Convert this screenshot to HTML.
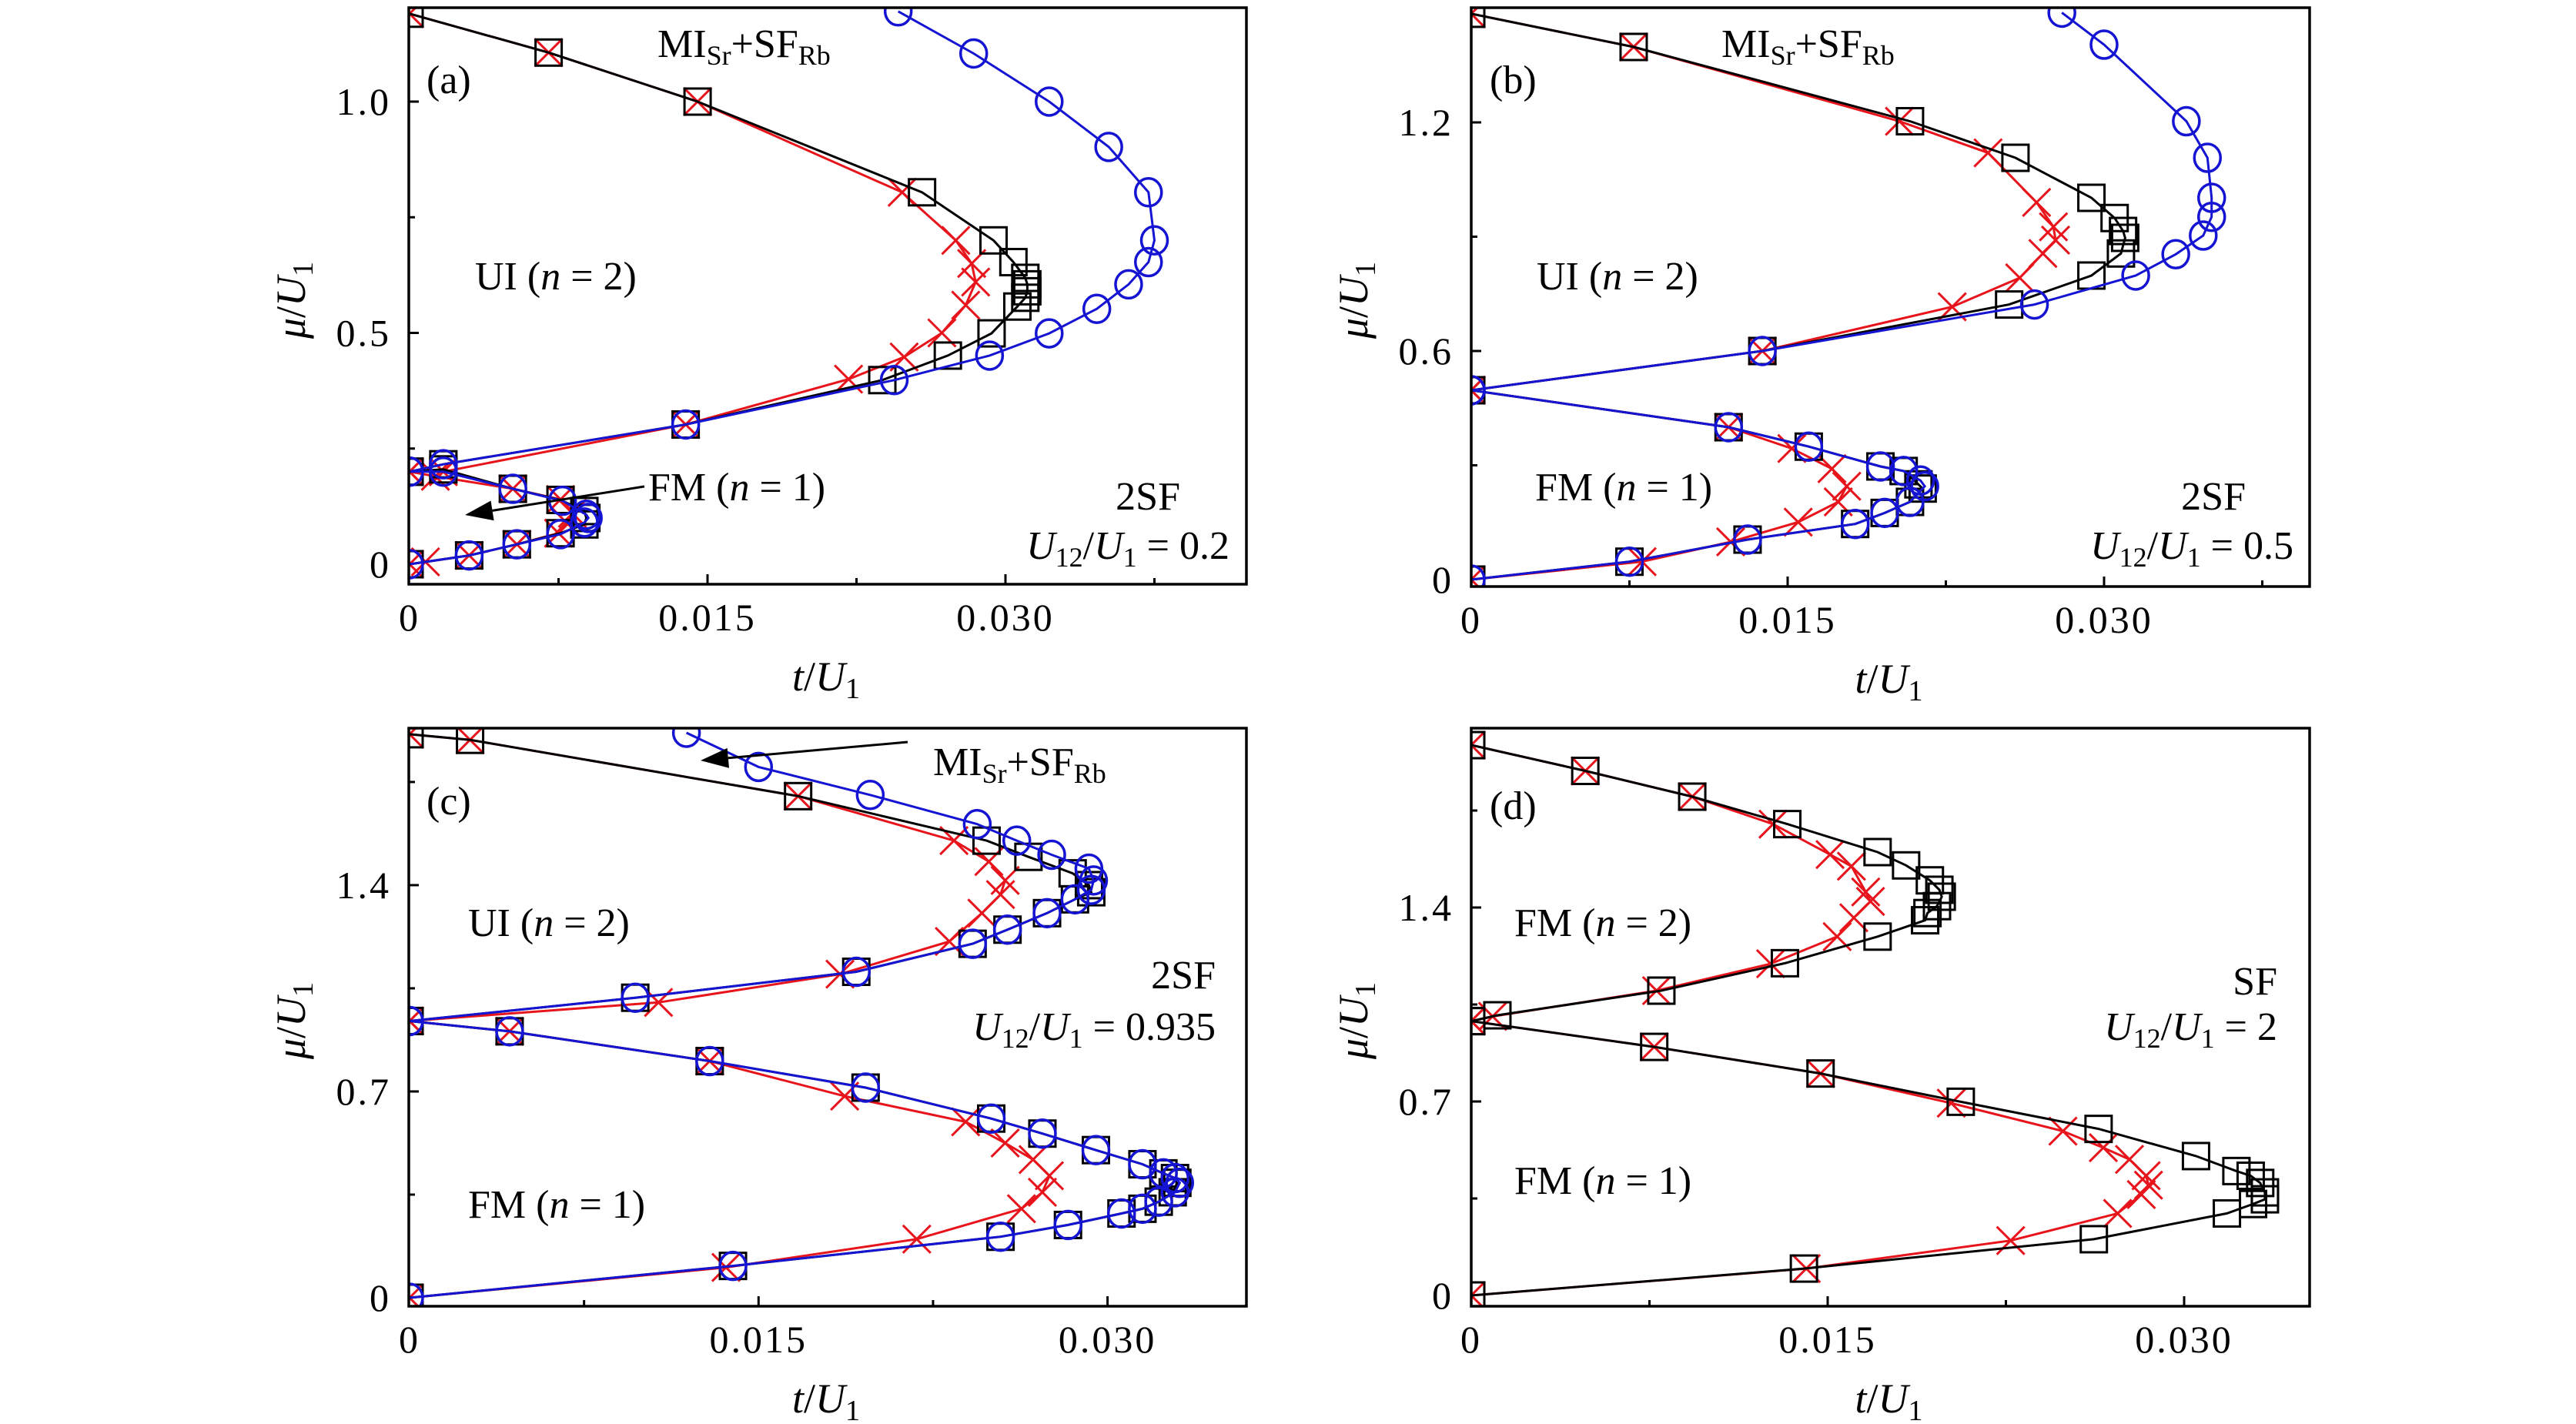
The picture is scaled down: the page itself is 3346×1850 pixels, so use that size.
<!DOCTYPE html>
<html><head><meta charset="utf-8">
<style>
html,body{margin:0;padding:0;background:#fff;}
svg{display:block;}
text{font-family:"Liberation Serif",serif;fill:#000;}
</style></head>
<body>
<svg id="chart" xmlns="http://www.w3.org/2000/svg" width="3346" height="1850" viewBox="0 0 3346 1850">
<rect x="0" y="0" width="3346" height="1850" fill="#fff"/>
</svg>
<script>
// ---------- data (t/U1, mu/U1) ----------
const aBlackUp=[[0,1.19],[0.0070,1.106],[0.0145,1.0],[0.0258,0.804],[0.0294,0.70],[0.0304,0.653],[0.0310,0.619],[0.0311,0.605],[0.0311,0.59],[0.0310,0.576],[0.0306,0.557],[0.0293,0.499],[0.0271,0.451],[0.0238,0.398],[0.0139,0.302],[0.0017,0.216],[0,0.2]];
const aBlackLow=[[0,0.2],[0.0017,0.205],[0.0052,0.163],[0.0076,0.139],[0.0088,0.115],[0.0089,0.10],[0.0088,0.086],[0.0076,0.067],[0.0054,0.043],[0.0030,0.019],[0,0]];
const aBlueUp=[[0.0246,1.195],[0.0284,1.104],[0.0322,1.0],[0.0352,0.902],[0.0372,0.804],[0.0375,0.70],[0.0372,0.653],[0.0362,0.605],[0.0346,0.552],[0.0322,0.499],[0.0292,0.451],[0.0244,0.398],[0.0139,0.302],[0.0017,0.216],[0,0.2]];
const aBlueLow=[[0,0.2],[0.0017,0.2],[0.0052,0.163],[0.0077,0.137],[0.0089,0.107],[0.0090,0.10],[0.0088,0.09],[0.0076,0.065],[0.0054,0.043],[0.0030,0.019],[0,0]];
const aRedUp=[[0,1.19],[0.0070,1.106],[0.0145,1.0],[0.0248,0.804],[0.0275,0.70],[0.0283,0.65],[0.0285,0.61],[0.0280,0.56],[0.0268,0.50],[0.0249,0.448],[0.0221,0.40],[0.0139,0.302],[0.0017,0.2],[0,0.2]];
const aRedLow=[[0,0.2],[0.0013,0.19],[0.0052,0.163],[0.0076,0.14],[0.0082,0.11],[0.0079,0.09],[0.0075,0.067],[0.0054,0.043],[0.0030,0.019],[0.0008,0.005],[0,0]];

const bBlackUp=[[0,1.485],[0.0077,1.398],[0.0208,1.203],[0.0258,1.107],[0.0294,1.002],[0.0305,0.949],[0.0309,0.915],[0.0310,0.897],[0.0308,0.856],[0.0294,0.798],[0.0255,0.722],[0.0138,0.60],[0,0.497]];
const bBlueUp=[[0.0280,1.488],[0.0300,1.404],[0.0339,1.203],[0.0349,1.107],[0.0351,1.002],[0.0351,0.952],[0.0347,0.903],[0.0334,0.854],[0.0315,0.798],[0.0267,0.722],[0.0138,0.60],[0,0.497]];
const bRedUp=[[0,1.485],[0.0077,1.398],[0.0203,1.203],[0.0245,1.12],[0.0268,0.99],[0.0276,0.926],[0.0277,0.891],[0.0271,0.856],[0.0260,0.792],[0.0228,0.716],[0.0138,0.60],[0,0.497]];
const bBlackLow=[[0,0.497],[0.0122,0.40],[0.0160,0.349],[0.0194,0.297],[0.0205,0.285],[0.0212,0.25],[0.0214,0.239],[0.0208,0.204],[0.0196,0.175],[0.0182,0.146],[0.0131,0.105],[0.0075,0.047],[0,0]];
const bBlueLow=[[0,0.497],[0.0122,0.40],[0.0160,0.349],[0.0194,0.297],[0.0205,0.285],[0.0213,0.26],[0.0215,0.245],[0.0208,0.204],[0.0196,0.175],[0.0182,0.146],[0.0131,0.105],[0.0075,0.047],[0,0]];
const bRedLow=[[0,0.497],[0.0122,0.40],[0.0152,0.344],[0.0171,0.291],[0.0178,0.245],[0.0174,0.204],[0.0155,0.151],[0.0123,0.099],[0.0081,0.047],[0,0]];

const cBlackUp=[[0,1.912],[0.0026,1.893],[0.0167,1.702],[0.0248,1.551],[0.0266,1.496],[0.0285,1.44],[0.0292,1.40],[0.0293,1.376],[0.0286,1.352],[0.0274,1.305],[0.0257,1.249],[0.0242,1.201],[0.0192,1.106],[0.0097,1.018],[0,0.939]];
const cBlueUp=[[0.0119,1.917],[0.0150,1.801],[0.0198,1.706],[0.0244,1.607],[0.0261,1.551],[0.0276,1.503],[0.0292,1.456],[0.0294,1.416],[0.0293,1.384],[0.0286,1.352],[0.0274,1.305],[0.0257,1.249],[0.0242,1.201],[0.0192,1.106],[0.0097,1.018],[0,0.939]];
const cRedUp=[[0,1.912],[0.0026,1.893],[0.0167,1.702],[0.0234,1.551],[0.0249,1.48],[0.0256,1.416],[0.0254,1.368],[0.0246,1.305],[0.0232,1.209],[0.0185,1.098],[0.0107,1.002],[0,0.939]];
const cBlackLow=[[0,0.939],[0.0043,0.904],[0.0129,0.803],[0.0196,0.713],[0.0250,0.608],[0.0272,0.557],[0.0295,0.501],[0.0315,0.453],[0.0324,0.422],[0.0329,0.406],[0.0330,0.39],[0.0328,0.358],[0.0322,0.326],[0.0315,0.302],[0.0306,0.286],[0.0283,0.247],[0.0254,0.207],[0.0139,0.108],[0,0]];
const cBlueLow=[[0,0.939],[0.0043,0.904],[0.0129,0.803],[0.0196,0.713],[0.0250,0.608],[0.0272,0.557],[0.0295,0.501],[0.0315,0.453],[0.0324,0.422],[0.0329,0.406],[0.0331,0.39],[0.0329,0.358],[0.0322,0.326],[0.0315,0.302],[0.0306,0.286],[0.0283,0.247],[0.0254,0.207],[0.0139,0.108],[0,0]];
const cRedLow=[[0,0.939],[0.0043,0.904],[0.0129,0.803],[0.0187,0.684],[0.0239,0.597],[0.0256,0.525],[0.0268,0.469],[0.0275,0.414],[0.0272,0.358],[0.0263,0.302],[0.0218,0.199],[0.0136,0.103],[0,0]];

const dBlackUp=[[0,1.986],[0.0048,1.893],[0.0093,1.80],[0.0133,1.701],[0.0171,1.60],[0.0183,1.552],[0.0193,1.498],[0.0197,1.464],[0.0198,1.439],[0.0196,1.405],[0.0192,1.38],[0.0191,1.354],[0.0171,1.295],[0.0132,1.199],[0.0080,1.10],[0.0011,1.011],[0,0.99]];
const dRedUp=[[0,1.986],[0.0048,1.893],[0.0093,1.80],[0.0127,1.701],[0.0151,1.591],[0.0160,1.549],[0.0166,1.456],[0.0168,1.422],[0.0161,1.363],[0.0154,1.295],[0.0126,1.197],[0.0078,1.10],[0.0009,1.007],[0,0.99]];
const dBlackLow=[[0,0.99],[0.0077,0.897],[0.0147,0.801],[0.0206,0.699],[0.0264,0.601],[0.0305,0.503],[0.0322,0.449],[0.0328,0.432],[0.0332,0.406],[0.0334,0.372],[0.0334,0.347],[0.0329,0.33],[0.0318,0.296],[0.0262,0.203],[0.0140,0.097],[0,0]];
const dRedLow=[[0,0.99],[0.0077,0.897],[0.0147,0.801],[0.0202,0.694],[0.0249,0.593],[0.0266,0.533],[0.0277,0.491],[0.0284,0.432],[0.0285,0.398],[0.0282,0.364],[0.0272,0.296],[0.0227,0.198],[0.0141,0.097],[0,0]];

const xTickVals=[0,0.015,0.030];
const xTickLabels=["0","0.015","0.030"];
const xMinorVals=[0.0075,0.0225,0.0375];
const yTicksAB=[[0,0.5,1.0],[0,0.6,1.2]];
const yLabelsAB=[["0","0.5","1.0"],["0","0.6","1.2"]];
const yMinorAB=[[0.25,0.75],[0.3,0.9]];
const yTicksCD=[0,0.7,1.4];
const yLabelsCD=["0","0.7","1.4"];
const yMinorCD=[0.35,1.05,1.75];

const NS="http://www.w3.org/2000/svg";
const svg=document.getElementById('chart');
function el(tag,attrs,parent){const e=document.createElementNS(NS,tag);for(const k in attrs)e.setAttribute(k,attrs[k]);(parent||svg).appendChild(e);return e;}

const panels=[
 {id:'a',L:531,R:1619,T:10,B:759,x0:532,xs:387/0.015,y0:733,ys:601,yt:yTicksAB[0],yl:yLabelsAB[0],ym:yMinorAB[0],
  series:[[aRedUp,'r'],[aRedLow,'r'],[aBlackUp,'k'],[aBlackLow,'k'],[aBlueUp,'b'],[aBlueLow,'b']]},
 {id:'b',L:1911,R:3000,T:10,B:762,x0:1911,xs:411/0.015,y0:753,ys:495,yt:yTicksAB[1],yl:yLabelsAB[1],ym:yMinorAB[1],
  series:[[bRedUp,'r'],[bRedLow,'r'],[bBlackUp,'k'],[bBlackLow,'k'],[bBlueUp,'b'],[bBlueLow,'b']]},
 {id:'c',L:531,R:1619,T:946,B:1697,x0:532,xs:453.3/0.015,y0:1686,ys:382.9,yt:yTicksCD,yl:yLabelsCD,ym:yMinorCD,
  series:[[cRedUp,'r'],[cRedLow,'r'],[cBlackUp,'k'],[cBlackLow,'k'],[cBlueUp,'b'],[cBlueLow,'b']]},
 {id:'d',L:1911,R:3000,T:946,B:1697,x0:1911,xs:463/0.015,y0:1683,ys:360,yt:yTicksCD,yl:yLabelsCD,ym:yMinorCD,
  series:[[dRedUp,'r'],[dRedLow,'r'],[dBlackUp,'k'],[dBlackLow,'k']]}
];
const col={k:'#000',r:'#e8141c',b:'#1414d2'};

panels.forEach(p=>{
  const g=el('g',{});
  
  
  const X=v=>p.x0+v*p.xs, Y=v=>p.y0-v*p.ys;
  const clipId='clip'+p.id;
  const cp=el('clipPath',{id:clipId},g);
  el('rect',{x:p.L,y:p.T,width:p.R-p.L,height:p.B-p.T},cp);
  const plot=el('g',{'clip-path':'url(#'+clipId+')'},g);
  p.series.forEach(([data,c],i)=>{
    const sg=el('g',{},plot);
    
    
    const pts=data.map(d=>X(d[0]).toFixed(1)+','+Y(d[1]).toFixed(1)).join(' ');
    el('polyline',{points:pts,fill:'none',stroke:col[c],'stroke-width':3},sg);
    data.forEach(d=>{
      const x=X(d[0]),y=Y(d[1]);
      let m;
      if(c==='k') m=el('rect',{x:x-17,y:y-17,width:34,height:34,fill:'none',stroke:'#000','stroke-width':3},sg);
      else if(c==='b') m=el('ellipse',{cx:x,cy:y,rx:17,ry:18,fill:'none',stroke:col.b,'stroke-width':3.5},sg);
      else m=el('path',{d:`M${x-18},${y-18}L${x+18},${y+18}M${x-18},${y+18}L${x+18},${y-18}`,fill:'none',stroke:col.r,'stroke-width':3},sg);
      
      
    });
  });
  const fr=el('rect',{x:p.L,y:p.T,width:p.R-p.L,height:p.B-p.T,fill:'none',stroke:'#000','stroke-width':3.5},g);
  
  
  xTickVals.forEach((v,i)=>{
    const x=X(v);
    if(i>0) el('line',{x1:x,y1:p.B,x2:x,y2:p.B-13,stroke:'#000','stroke-width':3},g);
    const t=el('text',{x:x,y:p.B+60,'font-size':50,'text-anchor':'middle','letter-spacing':3},g);
    t.textContent=xTickLabels[i];
    
    
  });
  xMinorVals.forEach(v=>{const x=X(v);if(x<p.R-2)el('line',{x1:x,y1:p.B,x2:x,y2:p.B-8,stroke:'#000','stroke-width':3},g);});
  p.yt.forEach((v,i)=>{
    const y=Y(v);
    if(i>0) el('line',{x1:p.L,y1:y,x2:p.L+13,y2:y,stroke:'#000','stroke-width':3},g);
    const t=el('text',{x:p.L-23,y:y+17,'font-size':50,'text-anchor':'end','letter-spacing':3},g);
    t.textContent=p.yl[i];
    
    
  });
  p.ym.forEach(v=>{const y=Y(v);if(y>p.T+2)el('line',{x1:p.L,y1:y,x2:p.L+8,y2:y,stroke:'#000','stroke-width':3},g);});
  const xt=el('text',{x:(p.L+p.R)/2-2,y:p.B+138,'font-size':54,'text-anchor':'middle'},g);
  xt.innerHTML='<tspan font-style="italic">t</tspan>/<tspan font-style="italic">U</tspan><tspan font-size="38" dy="10">1</tspan>';
  
  
  const cy=p.T+380;
  const yt=el('text',{x:0,y:0,'font-size':54,'text-anchor':'middle',transform:`translate(${p.L-135},${cy}) rotate(-90)`},g);
  yt.innerHTML='<tspan font-style="italic">μ</tspan>/<tspan font-style="italic">U</tspan><tspan font-size="38" dy="10">1</tspan>';
  
  
});

function label(x,y,html,name,anchor,size){
  const t=el('text',{x:x,y:y,'font-size':size||52,'text-anchor':anchor||'start'});
  t.innerHTML=html;
  
  
  return t;
}
const MI='MI<tspan font-size="36" dy="10">Sr</tspan><tspan dy="-10">+SF</tspan><tspan font-size="36" dy="10">Rb</tspan>';
const U12=v=>'<tspan font-style="italic">U</tspan><tspan font-size="36" dy="10">12</tspan><tspan dy="-10">/</tspan><tspan font-style="italic">U</tspan><tspan font-size="36" dy="10">1</tspan><tspan dy="-10"> = '+v+'</tspan>';
const n=v=>'(<tspan font-style="italic">n</tspan> = '+v+')';
label(554,121,'(a)','panel-label-a');
label(854,74,MI,'phase-label-mi-sf-a');
label(617,376,'UI  '+n(2),'phase-label-ui-a');
label(842,650,'FM  '+n(1),'phase-label-fm-a');
label(1533,662,'2SF','phase-label-2sf-a','end');
label(1597,726,U12('0.2'),'u12-label-a','end');
label(1935,121,'(b)','panel-label-b');
label(2236,74,MI,'phase-label-mi-sf-b');
label(1996,376,'UI  '+n(2),'phase-label-ui-b');
label(1994,650,'FM  '+n(1),'phase-label-fm-b');
label(2917,662,'2SF','phase-label-2sf-b','end');
label(2979,726,U12('0.5'),'u12-label-b','end');
label(554,1058,'(c)','panel-label-c');
label(1212,1007,MI,'phase-label-mi-sf-c');
label(608,1216,'UI  '+n(2),'phase-label-ui-c');
label(608,1582,'FM  '+n(1),'phase-label-fm-c');
label(1579,1284,'2SF','phase-label-2sf-c','end');
label(1579,1351,U12('0.935'),'u12-label-c','end');
label(1935,1064,'(d)','panel-label-d');
label(1967,1216,'FM  '+n(2),'phase-label-fm2-d');
label(1967,1551,'FM  '+n(1),'phase-label-fm1-d');
label(2958,1292,'SF','phase-label-sf-d','end');
label(2958,1351,U12('2'),'u12-label-d','end');

function arrow(x1,y1,x2,y2,name){
  const g=el('g',{});
  
  
  const ang=Math.atan2(y2-y1,x2-x1),L=36,W=13;
  const bx=x2-L*Math.cos(ang),by=y2-L*Math.sin(ang);
  el('line',{x1:x1,y1:y1,x2:bx,y2:by,stroke:'#000','stroke-width':3},g);
  const px=-Math.sin(ang)*W,py=Math.cos(ang)*W;
  el('polygon',{points:`${x2},${y2} ${bx+px},${by+py} ${bx-px},${by-py}`,fill:'#000'},g);
}
arrow(837,632,604,669,'arrow-fm-a');
arrow(1179,964,910,988,'arrow-mi-c');
</script>
</body></html>
